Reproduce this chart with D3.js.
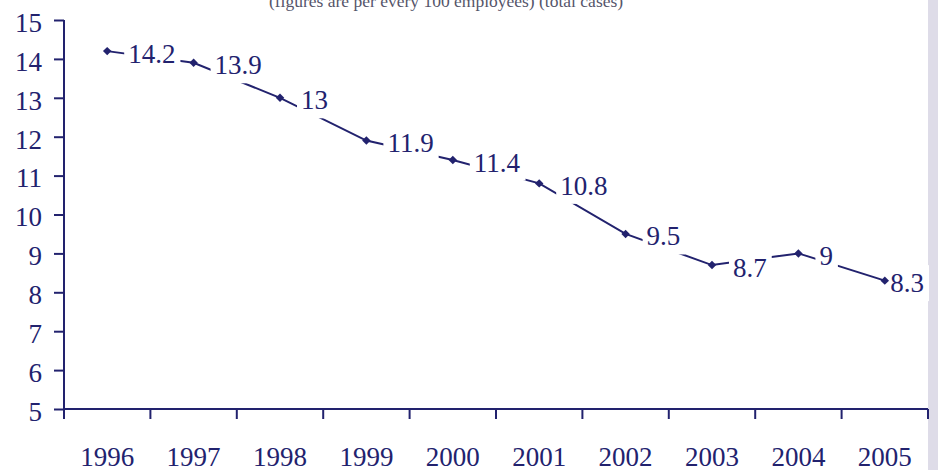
<!DOCTYPE html>
<html><head><meta charset="utf-8">
<script src="https://cdn.jsdelivr.net/npm/d3@7"></script>
<style>
html,body{margin:0;padding:0;background:#fff;}
svg{display:block;}
</style></head>
<body>
<script>
const years = ["1996","1997","1998","1999","2000","2001","2002","2003","2004","2005"];
const values = [14.2,13.9,13,11.9,11.4,10.8,9.5,8.7,9,8.3];
const yTicks = [5,6,7,8,9,10,11,12,13,14,15];
const labels = ["14.2","13.9","13","11.9","11.4","10.8","9.5","8.7","9","8.3"];
const title = "(figures are per every 100 employees) (total cases)";

const W = 939, H = 470;
const navy = "#22226e";
const font = "'Liberation Serif', 'DejaVu Serif', serif";
const svg = d3.select("body").append("svg").attr("width", W).attr("height", H);

svg.append("rect").attr("x", 928).attr("y", 0).attr("width", 10).attr("height", H).attr("fill", "#dedce8");

const x = d3.scaleBand().domain(years).range([64, 928]);
const y = d3.scaleLinear().domain([5, 15]).range([409, 20]);

svg.append("text").attr("x", 446).attr("y", 7).attr("text-anchor", "middle")
  .attr("font-family", font).attr("font-size", 17.5).attr("fill", "#55556a").text(title);

// y axis
const ya = svg.append("g").attr("transform", "translate(64,0)")
  .call(d3.axisLeft(y).tickValues(yTicks).tickSize(10).tickPadding(10).tickFormat(d3.format("d")));
ya.attr("font-family", font);
ya.select(".domain").attr("stroke", navy).attr("stroke-width", 2).attr("d", "M0,20V409");
ya.selectAll(".tick line").attr("stroke", navy).attr("stroke-width", 2);
ya.selectAll(".tick text").attr("font-family", font).attr("font-size", 27).attr("fill", navy)
  .attr("x", -22).attr("dy", "0.42em");

// x axis
const xa = svg.append("g").attr("transform", "translate(0,409)")
  .call(d3.axisBottom(x).tickSize(0).tickPadding(38));
xa.attr("font-family", font);
xa.select(".domain").attr("stroke", navy).attr("stroke-width", 2).attr("d", "M64,0H928");
xa.selectAll(".tick text").attr("font-family", font).attr("font-size", 27).attr("fill", navy);
const bounds = years.map(d => x(d)).concat([928]);
xa.selectAll(".bt").data(bounds).enter().append("line").attr("class", "bt")
  .attr("x1", d => d).attr("x2", d => d).attr("y1", 0).attr("y2", 10)
  .attr("stroke", navy).attr("stroke-width", 2);

const cx = d => x(d) + x.bandwidth() / 2;
const pts = years.map((d, i) => [cx(d), y(values[i])]);

// line
svg.append("path").datum(pts).attr("d", d3.line()).attr("fill", "none")
  .attr("stroke", navy).attr("stroke-width", 2);

// labels with white backing
const lg = svg.append("g");
pts.forEach((p, i) => {
  const g = lg.append("g");
  const t = g.append("text").attr("x", p[0] + 21).attr("y", p[1] + 11.5)
    .attr("font-family", font).attr("font-size", 27).attr("fill", navy).text(labels[i]);
  let bb = t.node().getBBox();
  if (bb.x + bb.width > 924) {
    t.attr("x", 924 - bb.width);
    bb = t.node().getBBox();
  }
  const bx = Math.max(p[0] + 15, bb.x - 4);
  g.insert("rect", "text").attr("x", bx).attr("y", bb.y - 3)
    .attr("width", bb.x + bb.width + 5 - bx).attr("height", bb.height + 6).attr("fill", "#fff");
});

// markers
svg.append("g").selectAll("path").data(pts).enter().append("path")
  .attr("transform", d => `translate(${d[0]},${d[1]}) rotate(45)`)
  .attr("d", d3.symbol().type(d3.symbolSquare).size(36)).attr("fill", navy);
</script>
</body></html>
